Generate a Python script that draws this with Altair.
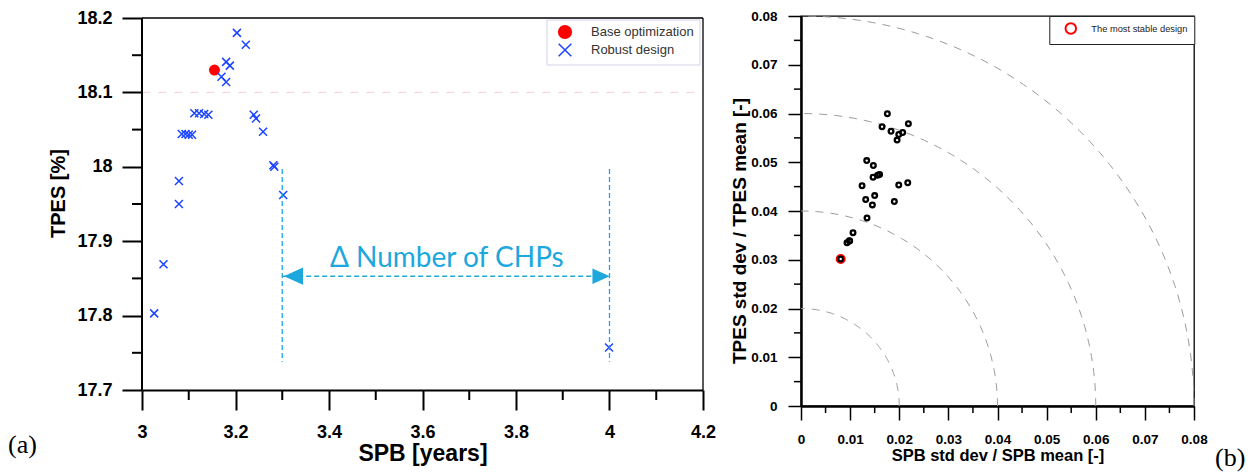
import altair as alt
import numpy as np
import pandas as pd

FONT = "Liberation Sans"
SERIF = "Liberation Serif"

# ---------------- panel (a): TPES vs SPB ----------------
robust_spb = [3.203, 3.222, 3.180, 3.188, 3.170, 3.180, 3.112, 3.122, 3.133, 3.142,
              3.085, 3.093, 3.100, 3.107, 3.239, 3.244, 3.259, 3.281, 3.283, 3.302,
              3.079, 3.079, 3.046, 3.026, 3.999]
robust_tpes = [18.180, 18.164, 18.141, 18.136, 18.121, 18.114, 18.072, 18.072, 18.071, 18.070,
               18.044, 18.044, 18.043, 18.043, 18.070, 18.065, 18.047, 18.002, 18.000, 17.962,
               17.981, 17.950, 17.869, 17.803, 17.757]
base_spb = [3.155]
base_tpes = [18.130]
series_names = ["Base optimization", "Robust design"]

x_major_a = [3.0, 3.2, 3.4, 3.6, 3.8, 4.0, 4.2]
x_minor_a = [3.1, 3.3, 3.5, 3.7, 3.9, 4.1]
y_major_a = [17.7, 17.8, 17.9, 18.0, 18.1, 18.2]
y_minor_a = [17.75, 17.85, 17.95, 18.05, 18.15]
frame_x = [3.0, 4.2]
frame_y = [17.7, 18.2]
ref_line_a = [18.1]
chp_lines_x = [3.30, 4.00]
chp_lines_top = [17.997, 17.997]
chp_lines_bottom = [17.738, 17.738]
arrow_y = [17.853]
arrow_start = [3.30]
arrow_end = [4.00]
arrow_left_x = [3.324]
arrow_right_x = [3.982]
annot_text = ["\u0394 Number of CHPs"]
annot_x = [3.652]
annot_y = [17.865]

# ---------------- panel (b): coefficient of variation ----------------
spb_cv = [0.01758, 0.0165, 0.01833, 0.01956, 0.0199, 0.0207, 0.02186, 0.01338, 0.01473,
          0.01467, 0.0156, 0.0160, 0.01243, 0.0199, 0.02173, 0.01317, 0.0150, 0.01453,
          0.0190, 0.01344, 0.01059, 0.00991, 0.00937, 0.00984, 0.00808]
tpes_cv = [0.05995, 0.0573, 0.05637, 0.05454, 0.05568, 0.0561, 0.05792, 0.05034, 0.04932,
           0.04694, 0.04735, 0.0475, 0.0452, 0.04532, 0.0458, 0.04235, 0.04316, 0.04125,
           0.04194, 0.03855, 0.03556, 0.03387, 0.03347, 0.03388, 0.03015]
stable_spb = [0.00808]
stable_tpes = [0.03015]
stable_label = ["The most stable design"]
radii = [0.02, 0.04, 0.06, 0.08]
x_major_b = [0.0, 0.01, 0.02, 0.03, 0.04, 0.05, 0.06, 0.07, 0.08]
x_minor_b = [0.005, 0.015, 0.025, 0.035, 0.045, 0.055, 0.065, 0.075]
y_major_b = x_major_b
y_minor_b = x_minor_b

BLUE = "#1a44ff"
CYAN = "#1ca7dd"
X_PATH = "M-1,-1L1,1M-1,1L1,-1"
TRI_LEFT = "M-1,0L1,-0.9L1,0.9Z"
TRI_RIGHT = "M1,0L-1,-0.9L-1,0.9Z"

# ======================= panel (a) =======================
W_A, H_A = 561, 374
xs_a = alt.Scale(domain=[3.0, 4.2], nice=False, zero=False)
ys_a = alt.Scale(domain=[17.7, 18.2027], nice=False, zero=False)

x_axis_a = alt.Axis(values=x_major_a, format="~g", title="SPB [years]", grid=False,
                    titleFont=FONT, titleFontSize=23, titleFontWeight="bold", titleColor="black",
                    titlePadding=1, labelFont=FONT, labelFontSize=18, labelFontWeight="bold",
                    labelColor="black", labelPadding=13, labelFlush=False, labelOverlap=False,
                    tickSize=20, tickWidth=2, tickColor="black", domainWidth=2, domainColor="black")
y_axis_a = alt.Axis(values=y_major_a, format="~g", title="TPES [%]", grid=False, domain=False,
                    titleFont=FONT, titleFontSize=20, titleFontWeight="bold", titleColor="black",
                    titlePadding=8, titleY=177, labelFont=FONT, labelFontSize=18,
                    labelFontWeight="bold", labelColor="black", labelPadding=10,
                    labelFlush=False, labelOverlap=False,
                    tickSize=20, tickWidth=2, tickColor="black")


def XA(f):
    return alt.X(f, type="quantitative", scale=xs_a, axis=x_axis_a)


def YA(f):
    return alt.Y(f, type="quantitative", scale=ys_a, axis=y_axis_a)


leg_a = alt.Legend(orient="none", legendX=404.5, legendY=3.5, title=None, padding=5,
                   symbolOffset=6, labelOffset=18.5, rowPadding=-1, symbolSize=160,
                   symbolStrokeWidth=1.5, labelFont=FONT, labelFontSize=13, labelColor="#333333",
                   strokeColor="#d4d4ee", fillColor="white", cornerRadius=0)

pts_base = pd.DataFrame({"spb": base_spb, "tpes": base_tpes,
                         "series": [series_names[0]] * len(base_spb)})
pts_rob = pd.DataFrame({"spb": robust_spb, "tpes": robust_tpes,
                        "series": [series_names[1]] * len(robust_spb)})

shape_a = alt.Shape("series:N", scale=alt.Scale(domain=series_names, range=["circle", X_PATH]), legend=leg_a)
fill_a = alt.Fill("series:N", scale=alt.Scale(domain=series_names, range=["#ff0000", "transparent"]), legend=leg_a)
stroke_a = alt.Stroke("series:N", scale=alt.Scale(domain=series_names, range=["#ff0000", BLUE]), legend=leg_a)

# frame of panel (a): left axis line, top and right borders
frame_df = pd.DataFrame({
    "x1": [frame_x[0], frame_x[0], frame_x[1]],
    "x2": [frame_x[0], frame_x[1], frame_x[1]],
    "y1": [frame_y[0], frame_y[1], frame_y[0]],
    "y2": [frame_y[1], frame_y[1], frame_y[1]],
    "w": [2.0, 1.3, 1.3],
})
frame = alt.Chart(frame_df).mark_rule(color="black").encode(
    x=XA("x1"), x2="x2", y=YA("y1"), y2="y2", strokeWidth=alt.StrokeWidth("w:Q", scale=None))

ref_df = pd.DataFrame({"y": ref_line_a, "x1": [frame_x[0]], "x2": [frame_x[1]]})
ref_rule = alt.Chart(ref_df).mark_rule(color="#f6d2d2", strokeDash=[8, 8], strokeWidth=1).encode(
    y=YA("y"), x=XA("x1"), x2="x2")

vlines_df = pd.DataFrame({"x": chp_lines_x, "y1": chp_lines_top, "y2": chp_lines_bottom})
vlines = alt.Chart(vlines_df).mark_rule(color=CYAN, strokeDash=[5, 3], strokeWidth=1.3).encode(
    x=XA("x"), y=YA("y1"), y2="y2")

arrow_df = pd.DataFrame({"x1": arrow_start, "x2": arrow_end, "y": arrow_y})
arrow_line = alt.Chart(arrow_df).mark_rule(color=CYAN, strokeDash=[5, 3], strokeWidth=1.5).encode(
    x=XA("x1"), x2="x2", y=YA("y"))

head_l_df = pd.DataFrame({"x": arrow_left_x, "y": arrow_y})
head_r_df = pd.DataFrame({"x": arrow_right_x, "y": arrow_y})
head_l = alt.Chart(head_l_df).mark_point(shape=TRI_LEFT, filled=True, size=361, color=CYAN,
                                          opacity=1).encode(x=XA("x"), y=YA("y"))
head_r = alt.Chart(head_r_df).mark_point(shape=TRI_RIGHT, filled=True, size=300, color=CYAN,
                                          opacity=1).encode(x=XA("x"), y=YA("y"))

annot_df = pd.DataFrame({"x": annot_x, "y": annot_y, "t": annot_text})
annot = alt.Chart(annot_df).mark_text(font="Lato", fontSize=28, color=CYAN, align="center",
                                      baseline="alphabetic").encode(x=XA("x"), y=YA("y"), text="t:N")

base_layer = alt.Chart(pts_base).mark_point(size=90, strokeWidth=1.5, opacity=1).encode(
    x=XA("spb"), y=YA("tpes"), shape=shape_a, fill=fill_a, stroke=stroke_a)
rob_layer = alt.Chart(pts_rob).mark_point(size=64, strokeWidth=1.5, opacity=1).encode(
    x=XA("spb"), y=YA("tpes"), shape=shape_a, fill=fill_a, stroke=stroke_a)

xminor_a_df = pd.DataFrame({"v": x_minor_a})
yminor_a_df = pd.DataFrame({"v": y_minor_a})
xminor_a = alt.Chart(xminor_a_df).mark_rule(color="black", strokeWidth=2).encode(
    x=XA("v"), y=alt.value(H_A), y2=alt.value(H_A + 10))
yminor_a = alt.Chart(yminor_a_df).mark_rule(color="black", strokeWidth=2).encode(
    y=YA("v"), x=alt.value(-10), x2=alt.value(0))

lab_a = alt.Chart(pd.DataFrame({"t": ["(a)"]})).mark_text(
    font=SERIF, fontSize=26, align="left", baseline="middle", color="black").encode(
    x=alt.value(-134), y=alt.value(429), text="t:N")

left = alt.layer(base_layer, rob_layer, ref_rule, vlines, arrow_line, head_l, head_r, annot,
                 frame, xminor_a, yminor_a, lab_a).properties(
    width=W_A, height=H_A, view=alt.ViewBackground(strokeOpacity=0))

# ======================= panel (b) =======================
W_B, H_B = 393, 390
xs_b = alt.Scale(domain=[0, 0.08], nice=False, zero=False)
ys_b = alt.Scale(domain=[0, 0.08], nice=False, zero=False)

x_axis_b = alt.Axis(values=x_major_b, format="~g", title="SPB std dev / SPB mean [-]", grid=False,
                    titleFont=FONT, titleFontSize=16.5, titleFontWeight="bold", titleColor="black",
                    titlePadding=2, labelFont=FONT, labelFontSize=13.5, labelFontWeight="bold",
                    labelColor="black", labelPadding=12, labelFlush=False, labelOverlap=False,
                    tickSize=14, tickWidth=1.5, tickColor="black", domainWidth=2.5, domainColor="black")
y_axis_b = alt.Axis(values=y_major_b, format="~g", title="TPES std dev / TPES mean [-]", grid=False,
                    titleFont=FONT, titleFontSize=19, titleFontWeight="bold", titleColor="black",
                    titlePadding=1, titleY=214.5, labelFont=FONT, labelFontSize=13.5,
                    labelFontWeight="bold", labelColor="black", labelPadding=11,
                    labelFlush=False, labelOverlap=False,
                    tickSize=13, tickWidth=1.5, tickColor="black", domainWidth=2.5, domainColor="black")


def XB(f):
    return alt.X(f, type="quantitative", scale=xs_b, axis=x_axis_b)


def YB(f):
    return alt.Y(f, type="quantitative", scale=ys_b, axis=y_axis_b)


leg_b = alt.Legend(orient="none", legendX=248.3, legendY=0, title=None, padding=6,
                   symbolOffset=9, labelOffset=14, symbolSize=110, symbolType="circle",
                   symbolStrokeWidth=2, symbolFillColor="transparent", labelFont=FONT,
                   labelFontSize=9.3, labelColor="#222222", strokeColor="#222222",
                   fillColor="white", cornerRadius=0)

ang = np.linspace(0, np.pi / 2, 121)
arc_rows = []
for r in radii:
    for i, a in enumerate(ang):
        arc_rows.append({"r": r, "cx": r * np.cos(a), "cy": r * np.sin(a), "o": i})
arc_df = pd.DataFrame(arc_rows)
arcs = alt.Chart(arc_df).mark_line(color="#9a9a9a", strokeDash=[8, 7], strokeWidth=1).encode(
    x=XB("cx"), y=YB("cy"), detail="r:N", order="o:Q")

cv_df = pd.DataFrame({"spb": spb_cv, "tpes": tpes_cv})
cv_pts = alt.Chart(cv_df).mark_point(shape="circle", filled=False, color="black", strokeWidth=2.3,
                                     size=22, opacity=1).encode(
    x=XB("spb"), y=YB("tpes"))

stable_df = pd.DataFrame({"spb": stable_spb, "tpes": stable_tpes, "lab": stable_label})
stable = alt.Chart(stable_df).mark_point(shape="circle", filled=False, strokeWidth=2, size=64,
                                         opacity=1).encode(
    x=XB("spb"), y=YB("tpes"),
    stroke=alt.Stroke("lab:N", scale=alt.Scale(domain=stable_label, range=["#ff0000"]), legend=leg_b))

xminor_b_df = pd.DataFrame({"v": x_minor_b})
yminor_b_df = pd.DataFrame({"v": y_minor_b})
xminor_b = alt.Chart(xminor_b_df).mark_rule(color="black", strokeWidth=1.5).encode(
    x=XB("v"), y=alt.value(H_B), y2=alt.value(H_B + 7))
yminor_b = alt.Chart(yminor_b_df).mark_rule(color="black", strokeWidth=1.5).encode(
    y=YB("v"), x=alt.value(-7), x2=alt.value(0))

lab_b = alt.Chart(pd.DataFrame({"t": ["(b)"]})).mark_text(
    font=SERIF, fontSize=26, align="left", baseline="middle", color="black").encode(
    x=alt.value(414), y=alt.value(442), text="t:N")

right = alt.layer(arcs, stable, cv_pts, xminor_b, yminor_b, lab_b).properties(width=W_B, height=H_B)

chart = alt.hconcat(left, right, spacing=14).resolve_scale(
    x="independent", y="independent", stroke="independent", fill="independent", shape="independent"
).resolve_legend(stroke="independent", fill="independent", shape="independent").properties(
    padding={"left": 0, "top": 0, "right": 0, "bottom": 0}, background="white"
).configure_view(stroke="black", strokeWidth=1.3)

chart.save("out.html", embed_options={"renderer": "svg", "actions": False})
